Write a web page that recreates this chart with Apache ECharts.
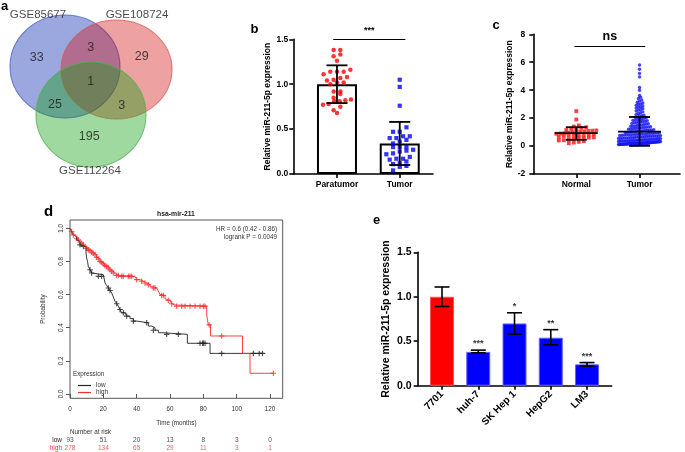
<!DOCTYPE html>
<html><head><meta charset="utf-8">
<script src="https://cdn.jsdelivr.net/npm/echarts@6/dist/echarts.min.js"></script>
<style>html,body{margin:0;padding:0;background:#fff}#c{width:685px;height:452px}</style>
</head><body><div id="c"></div>
<script>
// ================= DATA =================
// a: Venn
const vennSets = ['GSE85677', 'GSE108724', 'GSE112264'];
const vennCounts = [33, 3, 29, 1, 25, 3, 195]; // A only, A∩B, B only, A∩B∩C, A∩C, B∩C, C only

// b
const bCategories = ['Paratumor', 'Tumor'];
const bMeans = [1.00, 0.34];
const bSdLow = [0.79, 0.10];
const bSdHigh = [1.21, 0.58];
const bParatumor = [1.38,1.38,1.33,1.31,1.26,1.16,1.14,1.14,1.14,1.11,1.08,1.07,1.05,1.04,1.02,1.02,1.00,0.92,0.92,0.89,0.85,0.83,0.82,0.81,0.81,0.78,0.77,0.75,0.71,0.68];
const bTumor = [1.05,0.97,0.76,0.52,0.47,0.47,0.42,0.42,0.40,0.40,0.38,0.36,0.34,0.30,0.30,0.30,0.27,0.26,0.25,0.23,0.22,0.19,0.17,0.17,0.16,0.14,0.12,0.11,0.09,0.08,0.04];
const bSig = '***';

// c
const cCategories = ['Normal', 'Tumor'];
const cMeans = [0.92, 1.04];
const cSdLow = [0.45, 0.02];
const cSdHigh = [1.35, 2.08];
const cNormal = [0.20,0.25,0.30,0.35,0.40,0.42,0.45,0.50,0.55,0.58,0.60,0.62,0.65,0.70,0.72,0.75,0.78,0.80,0.82,0.85,0.88,0.90,0.92,0.95,0.98,1.00,1.02,1.05,1.08,1.10,1.12,1.15,1.20,1.25,1.30,1.35,1.40,1.48,1.90,2.50];
const cTumor = [0.05,0.06,0.07,0.08,0.08,0.09,0.10,0.10,0.11,0.11,0.12,0.12,0.13,0.13,0.14,0.14,0.15,0.15,0.15,0.16,0.16,0.17,0.17,0.18,0.18,0.18,0.19,0.19,0.20,0.20,0.20,0.21,0.21,0.22,0.22,0.22,0.23,0.23,0.24,0.24,0.25,0.25,0.25,0.26,0.26,0.27,0.27,0.28,0.28,0.29,0.29,0.30,0.30,0.12,0.17,0.21,0.09,0.24,0.19,0.27,
  0.31,0.32,0.32,0.33,0.34,0.34,0.35,0.36,0.36,0.37,0.38,0.39,0.40,0.40,0.41,0.42,0.43,0.44,0.45,0.45,0.46,0.47,0.48,0.49,0.50,0.51,0.52,0.53,0.54,0.55,0.56,0.57,0.58,0.59,0.60,
  0.62,0.64,0.65,0.67,0.68,0.70,0.71,0.73,0.74,0.76,0.77,0.79,0.80,0.82,0.83,0.85,0.86,0.88,0.90,0.91,0.93,0.95,0.96,0.98,1.00,
  0.52,0.57,0.63,0.66,0.69,0.72,0.75,0.78,0.81,0.84,0.87,0.92,0.97,1.03,1.07,1.12,1.16,1.22,1.26,1.33,1.37,1.43,
  1.02,1.05,1.08,1.10,1.13,1.15,1.18,1.21,1.24,1.27,1.30,1.32,1.35,1.38,1.41,1.44,1.47,1.50,
  1.52,1.54,1.58,1.60,1.62,1.66,1.68,1.70,1.74,1.76,1.78,1.82,1.84,1.86,1.90,1.92,1.94,1.98,
  2.03,2.06,2.09,2.15,2.18,2.21,2.27,2.33,2.39,2.45,2.51,2.57,
  2.62,2.67,2.72,2.77,2.82,2.87,2.92,2.97,
  3.02,3.08,3.14,3.22,3.30,3.40,3.50,3.62,
  4.00,4.20,4.95,5.20,5.50,5.80];
const cSig = 'ns';

// d: Kaplan-Meier
const kmTitle = 'hsa-mir-211';
const kmStats = ['HR = 0.6 (0.42 - 0.86)', 'logrank P = 0.0049'];
const kmLow = [[0,1],[1,0.98],[2,0.96],[3,0.95],[4,0.93],[5,0.92],[6,0.90],[7,0.89],[9.6,0.85],[10,0.82],[10.5,0.80],[11,0.77],[12,0.75],[13,0.73],[14,0.72],[20,0.71],[21,0.67],[22,0.655],[23,0.64],[24,0.625],[25,0.61],[26,0.585],[27,0.56],[28,0.545],[29,0.53],[30,0.51],[31,0.49],[33,0.48],[34,0.47],[36,0.455],[38,0.44],[40,0.43],[47,0.41],[49,0.40],[51,0.385],[53,0.37],[55,0.36],[70.4,0.306],[84,0.245],[116,0.245]];
const kmHigh = [[0,1],[1,0.98],[2,0.96],[3,0.95],[4,0.94],[5,0.93],[6,0.92],[7,0.91],[8,0.90],[9,0.89],[10,0.88],[11,0.87],[12,0.865],[13,0.855],[14,0.85],[15,0.84],[16,0.825],[17,0.815],[18,0.80],[19,0.795],[20,0.785],[21,0.775],[22,0.77],[23,0.76],[24,0.75],[25,0.74],[26,0.73],[27,0.725],[28,0.715],[30,0.71],[39,0.70],[40,0.69],[42,0.68],[44,0.67],[46,0.66],[48,0.647],[50,0.64],[52,0.634],[53,0.62],[54,0.60],[55,0.595],[57,0.575],[58,0.565],[60,0.554],[61,0.545],[62,0.537],[63,0.53],[82,0.477],[82.5,0.445],[83,0.417],[84.3,0.35],[103.5,0.245],[108,0.125],[122,0.125]];
const kmLowCensor = [[6,0.90],[8,0.89],[12,0.75],[13,0.73],[17,0.71],[19,0.71],[23,0.64],[24,0.625],[28,0.545],[30,0.51],[32,0.49],[34,0.47],[38,0.44],[46,0.43],[50,0.385],[58,0.36],[65,0.36],[78,0.306],[79.5,0.306],[80,0.306],[81,0.306],[91,0.245],[110,0.245],[113.5,0.245],[115.5,0.245]];
const kmHighCensor = [[1,0.98],[2,0.96],[4,0.94],[5,0.93],[7,0.91],[8,0.90],[10,0.88],[11,0.87],[12,0.865],[13,0.855],[14,0.85],[15,0.84],[16,0.825],[17,0.815],[18,0.80],[19,0.795],[20,0.785],[21,0.775],[22,0.77],[23,0.76],[24,0.75],[25,0.74],[26,0.73],[28,0.715],[29,0.715],[31,0.71],[32,0.71],[35,0.71],[36,0.71],[37,0.71],[40,0.69],[43,0.68],[45,0.67],[47,0.66],[50,0.64],[51,0.64],[55,0.595],[56,0.595],[59,0.565],[61,0.545],[64,0.53],[67,0.53],[69,0.53],[72,0.53],[75,0.53],[78,0.53],[80,0.53],[81,0.53],[83.5,0.417],[91,0.35],[122,0.125]];
const kmTicksX = [0,20,40,60,80,100,120];
const kmTicksY = [0,0.2,0.4,0.6,0.8,1.0];
const riskTimes = [0,20,40,60,80,100,120];
const riskLow = [93,51,20,13,8,3,0];
const riskHigh = [278,134,65,29,11,3,1];

// e
const eCategories = ['7701', 'huh-7', 'SK Hep 1', 'HepG2', 'LM3'];
const eMeans = [1.00, 0.38, 0.70, 0.54, 0.24];
const eErrLow = [0.89, 0.37, 0.58, 0.46, 0.22];
const eErrHigh = [1.11, 0.40, 0.82, 0.63, 0.26];
const eStars = ['', '***', '*', '**', '***'];

// ================= LAYOUT / STYLE =================
const FONT = 'Liberation Sans, Arial, Helvetica, sans-serif';
const YTITLE = 'Relative miR-211-5p expression';
const G = {
  venn: {left: 0, top: 0, width: 200, height: 200},
  b: {left: 293.3, top: 39.3, width: 139.7, height: 134.7, x: [0.304, 2.53], y: [0, 1.5]},
  c: {left: 533.3, top: 34.3, width: 146.7, height: 139.7, x: [0.32, 2.64], y: [-2, 8]},
  d: {left: 70, top: 220, width: 212.7, height: 178.3, x: [0, 127.6], y: [-0.026, 1.05]},
  r: {left: 70, top: 436, width: 212.7, height: 16},
  e: {left: 417.7, top: 252.3, width: 194, height: 133.4, x: [0.33, 5.68], y: [0, 1.5]}
};
// Venn geometry (pixel-like units of the hidden venn grid)
const vennCircles = [
  {c: [65, 66.5], s: [110, 103], fill: 'rgba(5,35,175,0.5)', stroke: '#4b5fc0'},
  {c: [116.5, 69.5], s: [111, 99], fill: 'rgba(209,21,21,0.5)', stroke: '#d85a5a'},
  {c: [91, 114.5], s: [110, 105], fill: 'rgba(17,161,17,0.5)', stroke: '#4fb04f'}
];
const vennCountPos = [[36.7,57.3],[90.7,47.7],[141.7,56.7],[90.7,81.7],[55,105],[121.7,106],[89.3,136.7]];
const vennNamePos = [[38,14.5],[137,14.5],[90,170.5]];

function pxX(g) { return g.width / (g.x[1] - g.x[0]); }
function pxY(g) { return g.height / (g.y[1] - g.y[0]); }

// deterministic bin-based swarm layout (x offsets only)
function swarm(values, center, g, spacingPx, binPx, maxHalfPx) {
  const py = pxY(g), px = pxX(g);
  const bins = new Map();
  values.slice().sort((a, b) => a - b).forEach(v => {
    const k = Math.round(v * py / binPx);
    if (!bins.has(k)) bins.set(k, []);
    bins.get(k).push(v);
  });
  const out = [];
  bins.forEach(arr => {
    const n = arr.length;
    let s = spacingPx;
    if (n > 1 && (n - 1) * s / 2 > maxHalfPx) s = 2 * maxHalfPx / (n - 1);
    arr.forEach((v, i) => out.push([center + (i - (n - 1) / 2) * s / px, v]));
  });
  return out;
}

function gpY(gi, g, interval, fs, nameGap, margin, fmt) {
  return {type: 'value', gridIndex: gi, min: g.y[0], max: g.y[1], interval,
    name: YTITLE, nameLocation: 'middle', nameGap, nameRotate: 90,
    nameTextStyle: {fontFamily: FONT, fontWeight: 'bold', fontSize: fs, color: '#000'},
    axisLine: {show: true, onZero: false, lineStyle: {color: '#000', width: 1.6}},
    axisTick: {show: true, inside: false, length: 4, lineStyle: {color: '#000', width: 1.6}},
    axisLabel: {fontFamily: FONT, fontWeight: 'bold', fontSize: fs, color: '#000', margin, formatter: fmt},
    splitLine: {show: false}};
}
function gpX(gi, g, cats, fs, margin, rotate) {
  const vals = cats.map((_, i) => i + 1);
  return {type: 'value', gridIndex: gi, min: g.x[0], max: g.x[1],
    axisLine: {show: true, onZero: false, lineStyle: {color: '#000', width: 1.6}},
    axisTick: {show: true, length: 4, customValues: vals, lineStyle: {color: '#000', width: 1.6}},
    axisLabel: {customValues: vals, formatter: v => cats[Math.round(v) - 1] || '', rotate: rotate || 0,
      fontFamily: FONT, fontWeight: 'bold', fontSize: fs, color: '#000', margin},
    splitLine: {show: false}};
}
function errSeries(xi, pts, capPx, meanPx, lw) {
  return {type: 'custom', xAxisIndex: xi, yAxisIndex: xi, data: pts, z: 6, silent: true,
    renderItem(params, api) {
      const x = api.value(0), lo = api.value(1), hi = api.value(2), m = api.value(3);
      const a = api.coord([x, lo]), b = api.coord([x, hi]);
      const st = {stroke: '#000', lineWidth: lw};
      const ch = [
        {type: 'line', shape: {x1: a[0], y1: a[1], x2: b[0], y2: b[1]}, style: st},
        {type: 'line', shape: {x1: a[0] - capPx / 2, y1: a[1], x2: a[0] + capPx / 2, y2: a[1]}, style: st},
        {type: 'line', shape: {x1: b[0] - capPx / 2, y1: b[1], x2: b[0] + capPx / 2, y2: b[1]}, style: st}
      ];
      if (meanPx) {
        const c = api.coord([x, m]);
        ch.push({type: 'line', shape: {x1: c[0] - meanPx / 2, y1: c[1], x2: c[0] + meanPx / 2, y2: c[1]}, style: st});
      }
      return {type: 'group', children: ch};
    }};
}
const PLUS = 'path://M4,0H6V4H10V6H6V10H4V6H0V4H4Z';
const KM_TXT = {fontFamily: FONT, fontSize: 6.3, color: '#333'};
const RED_KM = '#ff2a2a', BLACK_KM = '#222';

// ================= OPTION =================
const grids = [G.venn, G.b, G.c, G.d, G.r, G.e].map(g => ({left: g.left, top: g.top, width: g.width, height: g.height, containLabel: false}));
grids[3].show = true; grids[3].borderColor = '#555'; grids[3].borderWidth = 1;

const xAxes = [
  {type: 'value', gridIndex: 0, min: 0, max: 200, show: false},
  gpX(1, G.b, bCategories, 8.5, 6),
  gpX(2, G.c, cCategories, 8.5, 6),
  {type: 'value', gridIndex: 3, min: G.d.x[0], max: G.d.x[1],
    name: 'Time (months)', nameLocation: 'middle', nameGap: 22, nameTextStyle: KM_TXT,
    axisLine: {show: false}, splitLine: {show: false},
    axisTick: {show: true, length: 4, customValues: kmTicksX, lineStyle: {color: '#555'}},
    axisLabel: {customValues: kmTicksX, ...KM_TXT, margin: 8}},
  {type: 'value', gridIndex: 4, min: G.d.x[0], max: G.d.x[1], show: false},
  gpX(5, G.e, eCategories, 10, 7, 45)
];
const yAxes = [
  {type: 'value', gridIndex: 0, min: 0, max: 200, inverse: true, show: false},
  gpY(1, G.b, 0.5, 8.5, 21, 5, v => v.toFixed(1)),
  gpY(2, G.c, 2, 8.5, 16, 8, v => String(v)),
  {type: 'value', gridIndex: 3, min: G.d.y[0], max: G.d.y[1],
    name: 'Probability', nameLocation: 'middle', nameGap: 24, nameTextStyle: KM_TXT,
    axisLine: {show: false}, splitLine: {show: false},
    axisTick: {show: true, length: 4, customValues: kmTicksY, lineStyle: {color: '#555'}},
    axisLabel: {customValues: kmTicksY, rotate: 90, ...KM_TXT, margin: 6, formatter: v => v.toFixed(1)}},
  {type: 'category', gridIndex: 4, data: ['low', 'high'], inverse: true,
    axisLine: {show: false}, axisTick: {show: false},
    axisLabel: {...KM_TXT, fontSize: 6.5, margin: 8, interval: 0, color: (v) => v === 'high' ? RED_KM : '#222'}},
  gpY(5, G.e, 0.5, 10.5, 26, 6, v => v.toFixed(1))
];

const series = [];
// ---- a: Venn ----
vennCircles.forEach((c, i) => series.push({type: 'scatter', xAxisIndex: 0, yAxisIndex: 0, silent: true, z: 2 + i,
  data: [c.c], symbol: 'circle', symbolSize: c.s,
  itemStyle: {color: c.fill, borderColor: c.stroke, borderWidth: 1}}));
series.push({type: 'scatter', xAxisIndex: 0, yAxisIndex: 0, silent: true, z: 10, symbolSize: 0,
  data: vennCounts.map((n, i) => [vennCountPos[i][0], vennCountPos[i][1], n]),
  label: {show: true, position: 'inside', formatter: p => String(p.value[2]), fontFamily: FONT, fontSize: 12.5, color: '#1a1a1a'}});
series.push({type: 'scatter', xAxisIndex: 0, yAxisIndex: 0, silent: true, z: 10, symbolSize: 0,
  data: vennSets.map((s, i) => [vennNamePos[i][0], vennNamePos[i][1], s]),
  label: {show: true, position: 'inside', formatter: p => p.value[2], fontFamily: FONT, fontSize: 11.5, color: '#1a1a1a'}});

// ---- b ----
series.push({type: 'bar', xAxisIndex: 1, yAxisIndex: 1, barWidth: 40, silent: true, z: 2,
  data: bMeans.map((m, i) => [i + 1, m]),
  itemStyle: {color: '#fff', borderColor: '#000', borderWidth: 2},
  markLine: {silent: true, symbol: 'none', lineStyle: {color: '#000', width: 1, type: 'solid'},
    label: {show: true, position: 'middle', formatter: bSig, fontFamily: FONT, fontSize: 9, fontWeight: 'bold', color: '#000', distance: 4},
    data: [[{coord: [0.94, 1.5]}, {coord: [2.09, 1.5]}]]}});
series.push({type: 'scatter', xAxisIndex: 1, yAxisIndex: 1, silent: true, z: 4, symbol: 'circle', symbolSize: 4.5,
  data: swarm(bParatumor, 1, G.b, 6.7, 6, 14), itemStyle: {color: '#ff0000'}});
series.push({type: 'scatter', xAxisIndex: 1, yAxisIndex: 1, silent: true, z: 4, symbol: 'rect', symbolSize: 4.2,
  data: swarm(bTumor, 2, G.b, 6.7, 5.5, 14), itemStyle: {color: '#0000ff'}});
series.push(errSeries(1, bMeans.map((m, i) => [i + 1, bSdLow[i], bSdHigh[i], m]), 21, 0, 1.8));

// ---- c ----
series.push({type: 'scatter', xAxisIndex: 2, yAxisIndex: 2, silent: true, z: 4, symbol: 'rect', symbolSize: 3.8,
  data: swarm(cNormal, 1, G.c, 5, 3.5, 20), itemStyle: {color: '#ff1010'},
  markLine: {silent: true, symbol: 'none', lineStyle: {color: '#000', width: 1.2, type: 'solid'},
    label: {show: true, position: 'middle', formatter: cSig, fontFamily: FONT, fontSize: 12.5, fontWeight: 'bold', color: '#000', distance: 3},
    data: [[{coord: [0.97, 7.18]}, {coord: [2.09, 7.18]}]]}});
series.push({type: 'scatter', xAxisIndex: 2, yAxisIndex: 2, silent: true, z: 4, symbol: 'circle', symbolSize: 3.4,
  data: swarm(cTumor, 2, G.c, 2.2, 3, 21), itemStyle: {color: '#1515ff'}});
series.push(errSeries(2, cMeans.map((m, i) => [i + 1, cSdLow[i], cSdHigh[i], m]), 21, 43, 1.8));

// ---- d ----
series.push({name: 'low', type: 'line', xAxisIndex: 3, yAxisIndex: 3, step: 'end', showSymbol: false, silent: true,
  data: kmLow, color: BLACK_KM, lineStyle: {color: BLACK_KM, width: 0.9}});
series.push({name: 'high', type: 'line', xAxisIndex: 3, yAxisIndex: 3, step: 'end', showSymbol: false, silent: true,
  data: kmHigh, color: RED_KM, lineStyle: {color: RED_KM, width: 0.9}});
series.push({name: 'lowCensor', type: 'scatter', xAxisIndex: 3, yAxisIndex: 3, silent: true, symbol: PLUS, symbolSize: 5.5,
  data: kmLowCensor, itemStyle: {color: BLACK_KM}});
series.push({name: 'highCensor', type: 'scatter', xAxisIndex: 3, yAxisIndex: 3, silent: true, symbol: PLUS, symbolSize: 5.5,
  data: kmHighCensor, itemStyle: {color: RED_KM}});
series.push({type: 'scatter', xAxisIndex: 4, yAxisIndex: 4, silent: true, symbolSize: 0,
  data: riskTimes.map((t, i) => [t, 0, riskLow[i]]),
  label: {show: true, position: 'inside', formatter: p => String(p.value[2]), ...KM_TXT, fontSize: 6.5, color: '#222'}});
series.push({type: 'scatter', xAxisIndex: 4, yAxisIndex: 4, silent: true, symbolSize: 0,
  data: riskTimes.map((t, i) => [t, 1, riskHigh[i]]),
  label: {show: true, position: 'inside', formatter: p => String(p.value[2]), ...KM_TXT, fontSize: 6.5, color: RED_KM}});

// ---- e ----
series.push({type: 'bar', xAxisIndex: 5, yAxisIndex: 5, barWidth: 24, silent: true, z: 2,
  data: eMeans.map((m, i) => ({value: [i + 1, m], itemStyle: i === 0 ? {color: '#ff0000', borderColor: '#ff5050', borderWidth: 1} : {color: '#0000ff', borderColor: '#6464ff', borderWidth: 1}}))});
series.push(errSeries(5, eMeans.map((m, i) => [i + 1, eErrLow[i], eErrHigh[i], m]), 15, 0, 1.6));
series.push({type: 'scatter', xAxisIndex: 5, yAxisIndex: 5, silent: true, symbolSize: 0,
  data: eErrHigh.map((h, i) => [i + 1, h, eStars[i]]),
  label: {show: true, position: 'top', distance: 2, formatter: p => p.value[2], fontFamily: FONT, fontSize: 9, fontWeight: 'bold', color: '#000'}});

// ---- texts (panel letters, KM annotations) ----
const letter = (t, x, y, fs) => ({type: 'text', x, y, silent: true,
  style: {text: t, font: 'bold ' + fs + 'px ' + FONT, fill: '#000', textAlign: 'center', textVerticalAlign: 'middle'}});
const graphics = [
  letter('a', 4.5, 6, 13), letter('b', 254.5, 29, 13), letter('c', 496, 25.5, 13),
  letter('d', 48.5, 212, 15), letter('e', 376.5, 220.5, 13),
  {type: 'text', x: 176, y: 214, silent: true, style: {text: kmTitle, font: 'bold 6.8px ' + FONT, fill: '#222', textAlign: 'center', textVerticalAlign: 'middle'}},
  {type: 'text', x: 277, y: 229, silent: true, style: {text: kmStats[0], font: '6.3px ' + FONT, fill: '#333', textAlign: 'right', textVerticalAlign: 'middle'}},
  {type: 'text', x: 277, y: 237, silent: true, style: {text: kmStats[1], font: '6.3px ' + FONT, fill: '#333', textAlign: 'right', textVerticalAlign: 'middle'}},
  {type: 'text', x: 73, y: 374, silent: true, style: {text: 'Expression', font: '6.3px ' + FONT, fill: '#333', textAlign: 'left', textVerticalAlign: 'middle'}},
  {type: 'text', x: 70, y: 432, silent: true, style: {text: 'Number at risk', font: '6.3px ' + FONT, fill: '#333', textAlign: 'left', textVerticalAlign: 'middle'}}
];

const option = {
  animation: false,
  backgroundColor: '#fff',
  grid: grids, xAxis: xAxes, yAxis: yAxes, series,
  legend: {left: 73, top: 377, orient: 'vertical', selectedMode: false, itemWidth: 13, itemHeight: 1.2, itemGap: 0,
    textStyle: {...KM_TXT, lineHeight: 7},
    data: [{name: 'low', icon: 'rect'}, {name: 'high', icon: 'rect'}]},
  graphic: graphics
};
const chart = echarts.init(document.getElementById('c'), null, {renderer: 'canvas'});
chart.setOption(option);
</script></body></html>
